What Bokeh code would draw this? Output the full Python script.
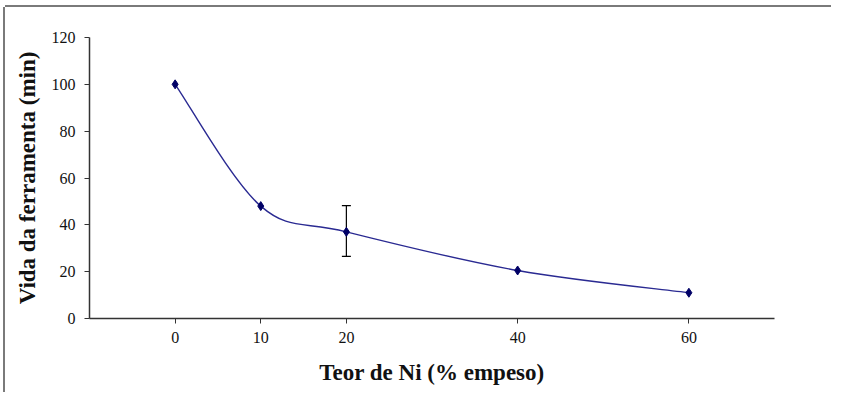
from bokeh.plotting import figure
from bokeh.models import FixedTicker, Whisker, ColumnDataSource, TeeHead, Range1d
from bokeh.embed import file_html
from bokeh.resources import INLINE

# Data
ni = [0, 10, 20, 40, 60]
vida = [100, 48, 37, 20.5, 11]
err_x = [20]
err_low = [26.5]
err_high = [48.2]
x_ticks = [0, 10, 20, 40, 60]
y_ticks = [0, 20, 40, 60, 80, 100, 120]

W, H = 826, 385
p = figure(width=W, height=H, output_backend="svg", toolbar_location=None,
           x_range=Range1d(-10, 70), y_range=Range1d(0, 120),
           min_border_left=84, min_border_right=57, min_border_top=30,
           min_border_bottom=74)
p.margin = (7, 0, 0, 5)
p.styles = {"box-shadow": "-2px 0px 0px 0px #7a7a7a, 0px -2px 0px 0px #7a7a7a"}
p.outline_line_color = None
p.grid.visible = False
p.background_fill_color = "white"
p.border_fill_color = "white"

# smoothed line (Catmull-Rom style Bezier through the data points)
n = len(ni)
x0, y0, x1, y1, cx0, cy0, cx1, cy1 = ([] for _ in range(8))
for i in range(n - 1):
    a = max(i - 1, 0)
    b = min(i + 2, n - 1)
    x0.append(ni[i]); y0.append(vida[i])
    x1.append(ni[i + 1]); y1.append(vida[i + 1])
    cx0.append(ni[i] + (ni[i + 1] - ni[a]) / 6.0)
    cy0.append(vida[i] + (vida[i + 1] - vida[a]) / 6.0)
    cx1.append(ni[i + 1] - (ni[b] - ni[i]) / 6.0)
    cy1.append(vida[i + 1] - (vida[b] - vida[i]) / 6.0)
p.bezier(x0=x0, y0=y0, x1=x1, y1=y1, cx0=cx0, cy0=cy0, cx1=cx1, cy1=cy1,
         line_color="#2a2a92", line_width=1.4)

p.scatter(ni, vida, marker="diamond", size=9, fill_color="#000066",
          line_color="#000066")

src = ColumnDataSource(dict(x=err_x, lo=err_low, hi=err_high))
w = Whisker(base="x", lower="lo", upper="hi", source=src, line_color="black",
            line_width=1.2,
            upper_head=TeeHead(size=9, line_color="black", line_width=1.2),
            lower_head=TeeHead(size=9, line_color="black", line_width=1.2))
p.add_layout(w)

font = "Liberation Serif"
for ax in (p.xaxis[0], p.yaxis[0]):
    ax.axis_line_color = "#333333"
    ax.axis_line_width = 1.5
    ax.major_tick_line_color = "#333333"
    ax.major_tick_out = 5
    ax.major_tick_in = 0
    ax.minor_tick_line_color = None
    ax.major_label_text_font = font
    ax.major_label_text_font_size = "16px"
    ax.major_label_text_color = "#111111"
    ax.axis_label_text_font = font
    ax.axis_label_text_font_style = "bold"
    ax.axis_label_text_font_size = "23px"
    ax.axis_label_text_color = "#111111"

p.xaxis.ticker = FixedTicker(ticks=x_ticks)
p.yaxis.ticker = FixedTicker(ticks=y_ticks)
p.xaxis.axis_label = "Teor de Ni (% empeso)"
p.yaxis.axis_label = "Vida da ferramenta (min)"
p.xaxis.major_label_standoff = 8
p.yaxis.major_label_standoff = 9
p.xaxis.axis_label_standoff = 14
p.yaxis.axis_label_standoff = 9

open("out.html", "w").write(file_html(p, INLINE))
